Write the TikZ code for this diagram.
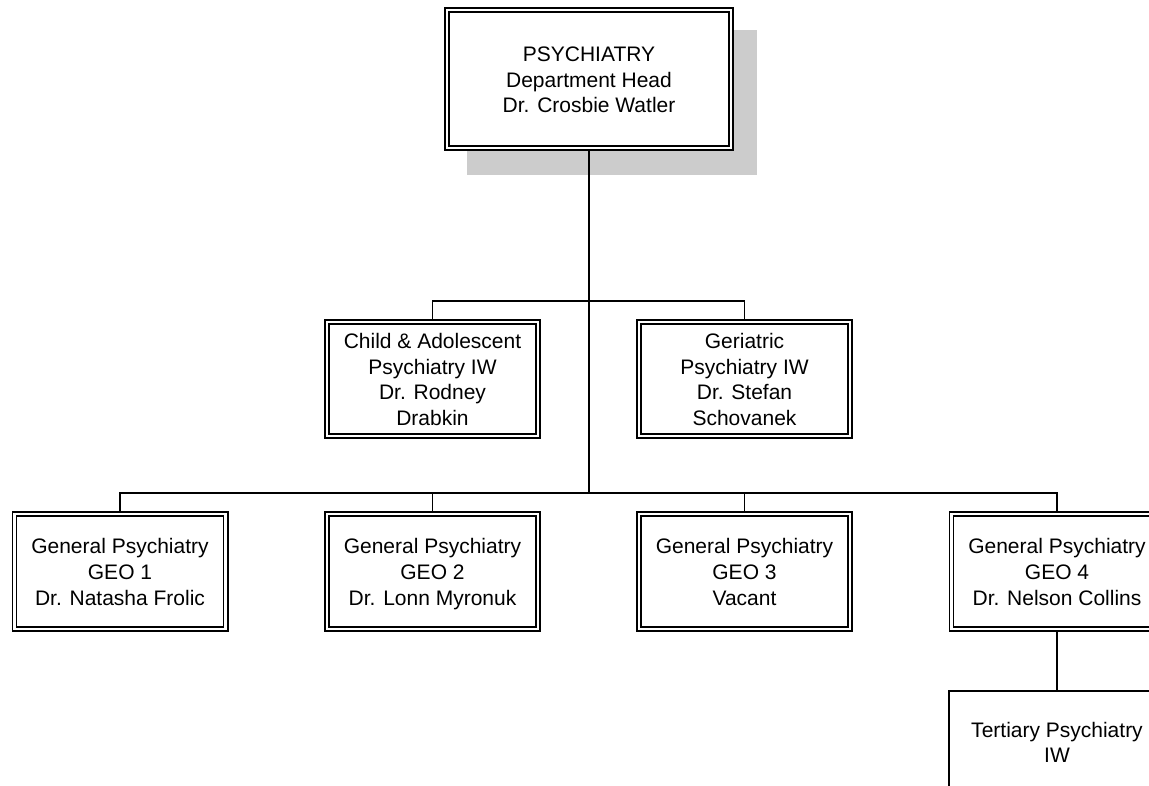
\documentclass[tikz,border=0pt]{standalone}
\usepackage{fontspec}
\setmainfont{Liberation Sans}
\definecolor{shadowgray}{HTML}{CCCCCC}
\newcommand{\topfix}{\rule{0pt}{21pt}}
\newcommand{\botfix}{\rule[-5pt]{0pt}{5pt}}
\begin{document}
\begin{tikzpicture}[x=1pt,y=-1pt,
  orgbox/.style={draw=black, double=white, line width=1.7pt, double distance=2.4pt,
    fill=white, inner sep=0pt, outer sep=2.9pt, align=center,
    font=\fontsize{21}{25.7}\selectfont,
    minimum width=211.2pt, minimum height=115.2pt},
  plainbox/.style={draw=black, line width=1.5pt, fill=white, inner sep=0pt,
    outer sep=0.75pt, align=center, font=\fontsize{21}{25.7}\selectfont,
    minimum width=216pt, minimum height=102pt},
  conn/.style={draw=black, line width=1.6pt},
  trunk/.style={draw=black, line width=2.5pt}]
\useasboundingbox (0,0) rectangle (1149,785);
\clip (0,0) rectangle (1149,785);
% shadow
\fill[shadowgray] (467,30) rectangle (757,175);
% nodes
\node[orgbox, minimum width=284.2pt, minimum height=138.2pt] (top) at (589,79)
  {\topfix PSYCHIATRY\\Department Head\\Dr. Crosbie Watler\botfix};
\node[orgbox, minimum height=114.2pt] (child) at (432.5,379)
  {\topfix Child \& Adolescent\\Psychiatry IW\\Dr. Rodney\\Drabkin\botfix};
\node[orgbox, minimum height=114.2pt] (geri) at (744.5,379)
  {\topfix Geriatric\\Psychiatry IW\\Dr. Stefan\\Schovanek\botfix};
\node[orgbox] (g1) at (120,571.5) {\topfix General Psychiatry\\GEO 1\\Dr. Natasha Frolic\botfix};
\node[orgbox] (g2) at (432.5,571.5) {\topfix General Psychiatry\\GEO 2\\Dr. Lonn Myronuk\botfix};
\node[orgbox] (g3) at (744.5,571.5) {\topfix General Psychiatry\\GEO 3\\Vacant\botfix};
\node[orgbox] (g4) at (1057,571.5) {\topfix General Psychiatry\\GEO 4\\Dr. Nelson Collins\botfix};
\node[plainbox] (tert) at (1057,742) {\topfix Tertiary Psychiatry\\IW\botfix};
% connectors
\coordinate (bus2) at (589,301);
\coordinate (bus3) at (589,493);
\draw[trunk] (top.south) -- (bus3);
\draw[conn] (child.north) |- (bus2) -| (geri.north);
\draw[conn] (g1.north) |- (bus3) -| (g4.north);
\draw[conn] (g2.north) -- (g2.north |- bus3);
\draw[conn] (g3.north) -- (g3.north |- bus3);
\draw[conn] (g4.south) -- (tert.north);
\end{tikzpicture}
\end{document}
